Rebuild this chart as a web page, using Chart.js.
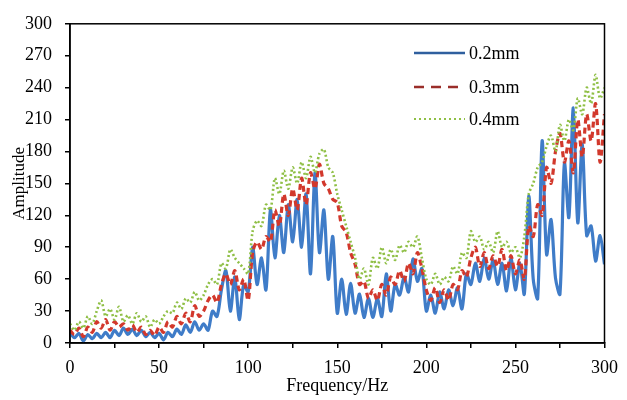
<!DOCTYPE html>
<html>
<head>
<meta charset="utf-8">
<script src="https://cdn.jsdelivr.net/npm/chart.js@4/dist/chart.umd.min.js"></script>
<style>
  html, body { margin: 0; padding: 0; background: #fff; }
  #wrap { width: 627px; height: 400px; position: relative; }
</style>
</head>
<body>
<div id="wrap"><canvas id="c"></canvas></div>
<script>
const freqs = [
  0, 2.5, 5, 7.5, 10, 12.5, 15, 17.5, 20, 22.5, 25, 27.5, 30, 32.5, 35, 37.5, 40, 42.5, 45, 47.5,
  50, 52.5, 55, 57.5, 60, 62.5, 65, 67.5, 70, 72.5, 75, 77.5, 80, 82.5, 85, 87.5, 90, 92.5, 95, 97.5,
  100, 102.5, 105, 107.5, 110, 112.5, 115, 117.5, 120, 122.5, 125, 127.5, 130, 132.5, 135, 137.5, 140, 142.5, 145, 147.5,
  150, 152.5, 155, 157.5, 160, 162.5, 165, 167.5, 170, 172.5, 175, 177.5, 180, 182.5, 185, 187.5, 190, 192.5, 195, 197.5,
  200, 202.5, 205, 207.5, 210, 212.5, 215, 217.5, 220, 222.5, 225, 227.5, 230, 232.5, 235, 237.5, 240, 242.5, 245, 247.5,
  250, 252.5, 255, 257.5, 260, 262.5, 265, 267.5, 270, 272.5, 275, 277.5, 280, 282.5, 285, 287.5, 290, 292.5, 295, 297.5,
  300
];

const amp02 = [
  10, 5, 9, 2, 8, 4, 9, 5, 10, 5, 12, 7, 14, 8, 13, 7, 12, 6, 10, 5,
  9, 3, 10, 6, 13, 8, 17, 10, 20, 12, 18, 12, 30, 25, 50, 68, 30, 62, 22, 55,
  48, 90, 55, 80, 50, 125, 80, 120, 85, 130, 95, 135, 90, 140, 65, 160, 85, 125, 60, 100,
  28, 60, 27, 56, 28, 46, 24, 42, 24, 42, 25, 65, 30, 55, 45, 62, 48, 79, 58, 70,
  30, 45, 28, 48, 32, 50, 35, 52, 32, 65, 55, 75, 58, 80, 60, 78, 55, 75, 49, 80,
  50, 75, 46, 138, 60, 42, 190, 83, 116, 61, 46, 169, 118, 221, 113, 187, 101, 110, 77, 101,
  74
];

const amp03 = [
  12, 8, 14, 6, 15, 10, 20, 14, 22, 12, 20, 15, 18, 12, 17, 10, 15, 8, 12, 7,
  15, 10, 20, 15, 25, 18, 28, 20, 35, 25, 30, 40, 45, 38, 55, 65, 55, 68, 50, 60,
  40, 85, 95, 88, 100, 95, 125, 110, 140, 120, 145, 125, 155, 130, 160, 145, 168, 150, 145, 135,
  132, 110, 104, 85, 74, 55, 58, 42, 50, 40, 55, 45, 62, 55, 68, 58, 75, 65, 85, 70,
  50, 40, 52, 38, 50, 40, 55, 50, 68, 62, 80, 90, 72, 85, 70, 82, 72, 88, 68, 82,
  65, 78, 60, 110, 100, 130, 120, 165, 150, 180, 197, 170, 190, 160, 210, 175, 215, 190, 225, 170,
  215
];

const amp04 = [
  18, 12, 20, 14, 25, 18, 30, 40, 25, 32, 22, 34, 20, 26, 18, 28, 20, 25, 15, 22,
  18, 25, 30, 28, 38, 32, 42, 38, 48, 40, 45, 55, 60, 55, 75, 70, 88, 80, 75, 70,
  65, 105, 115, 110, 130, 125, 155, 140, 162, 145, 165, 150, 170, 155, 175, 160, 178, 182, 165, 160,
  140, 125, 110, 95, 80, 60, 70, 55, 80, 70, 90, 75, 88, 78, 92, 85, 95, 90, 100, 80,
  60, 55, 65, 55, 62, 58, 72, 65, 85, 80, 105, 95, 100, 88, 95, 85, 105, 90, 95, 85,
  90, 80, 100, 140, 150, 165, 170, 185, 195, 180, 205, 190, 210, 200, 230, 215, 240, 225, 252, 230,
  240
];

const seriesNames = ["0.2mm", "0.3mm", "0.4mm"];
const xTicks = { min: 0, max: 300, step: 25, labelEvery: 50 };
const yTicks = { min: 0, max: 300, step: 30 };

const FONT = "'Liberation Serif', 'Times New Roman', serif";
const BLUE = "#3f7cc8";
const RED = "#d2382c";
const GREEN = "#8fbf45";

function pts(ys) {
  return freqs.map((f, i) => ({ x: f, y: ys[i] }));
}

// legend drawn inside the plot, top right, like the original
const legendInside = {
  id: "legendInside",
  afterDraw(chart) {
    const ctx = chart.ctx;
    const rows = [53, 87, 119];
    ctx.save();
    chart.data.datasets.forEach((ds, i) => {
      const y = rows[i];
      ctx.beginPath();
      ctx.strokeStyle = i === 1 ? "#9a2e2a" : i === 0 ? "#2f5f9e" : ds.borderColor;
      ctx.lineWidth = i === 2 ? 2 : 2.5;
      ctx.setLineDash(i === 1 ? [10, 7] : i === 2 ? [2, 3] : []);
      ctx.moveTo(414, y);
      ctx.lineTo(465, y);
      ctx.stroke();
      ctx.setLineDash([]);
      ctx.fillStyle = "#000";
      ctx.font = "18px " + FONT;
      ctx.textBaseline = "middle";
      ctx.textAlign = "left";
      ctx.fillText(seriesNames[i], 469, y + 1);
    });
    ctx.restore();
  },
};

// closed frame around the plot area
const frame = {
  id: "frame",
  afterDraw(chart) {
    const a = chart.chartArea;
    const ctx = chart.ctx;
    ctx.save();
    ctx.strokeStyle = "#000";
    ctx.lineWidth = 1.5;
    ctx.strokeRect(a.left, a.top, a.right - a.left, a.bottom - a.top);
    ctx.restore();
  },
};

new Chart(document.getElementById("c"), {
  type: "line",
  data: {
    datasets: [
      { label: seriesNames[0], data: pts(amp02), borderColor: BLUE, borderWidth: 3.2, order: 3 },
      { label: seriesNames[1], data: pts(amp03), borderColor: RED, borderWidth: 3.2, borderDash: [6, 4], order: 2 },
      { label: seriesNames[2], data: pts(amp04), borderColor: GREEN, borderWidth: 2.6, borderDash: [2, 2.5], order: 1 },
    ],
  },
  options: {
    responsive: true,
    maintainAspectRatio: false,
    animation: false,
    layout: { padding: { top: 18, right: 17, left: 0, bottom: 0 } },
    elements: { point: { radius: 0 }, line: { tension: 0.3, fill: false } },
    plugins: { legend: { display: false }, tooltip: { enabled: false } },
    scales: {
      x: {
        type: "linear",
        min: xTicks.min,
        max: xTicks.max,
        afterFit: (s) => { s.height = 57; },
        border: { color: "#000", width: 1.5 },
        grid: { drawOnChartArea: false, drawTicks: true, tickLength: 5, color: "#000", lineWidth: 1.5 },
        ticks: {
          stepSize: xTicks.step,
          color: "#000",
          font: { family: FONT, size: 18 },
          padding: 9,
          maxRotation: 0,
          autoSkip: false,
          callback: (v) => (v % xTicks.labelEvery === 0 ? v : ""),
        },
        title: {
          display: true,
          text: "Frequency/Hz",
          color: "#000",
          font: { family: FONT, size: 18 },
          padding: { top: 0, bottom: 3 },
        },
      },
      y: {
        min: yTicks.min,
        max: yTicks.max,
        afterFit: (s) => { s.width = 70; },
        border: { color: "#000", width: 1.5 },
        grid: { drawOnChartArea: false, drawTicks: true, tickLength: 5, color: "#000", lineWidth: 1.5 },
        ticks: {
          stepSize: yTicks.step,
          color: "#000",
          font: { family: FONT, size: 18 },
          padding: 13,
        },
        title: {
          display: true,
          text: "Amplitude",
          color: "#000",
          font: { family: FONT, size: 17 },
          padding: { top: 9, bottom: 0 },
        },
      },
    },
  },
  plugins: [legendInside, frame],
});
</script>
</body>
</html>
